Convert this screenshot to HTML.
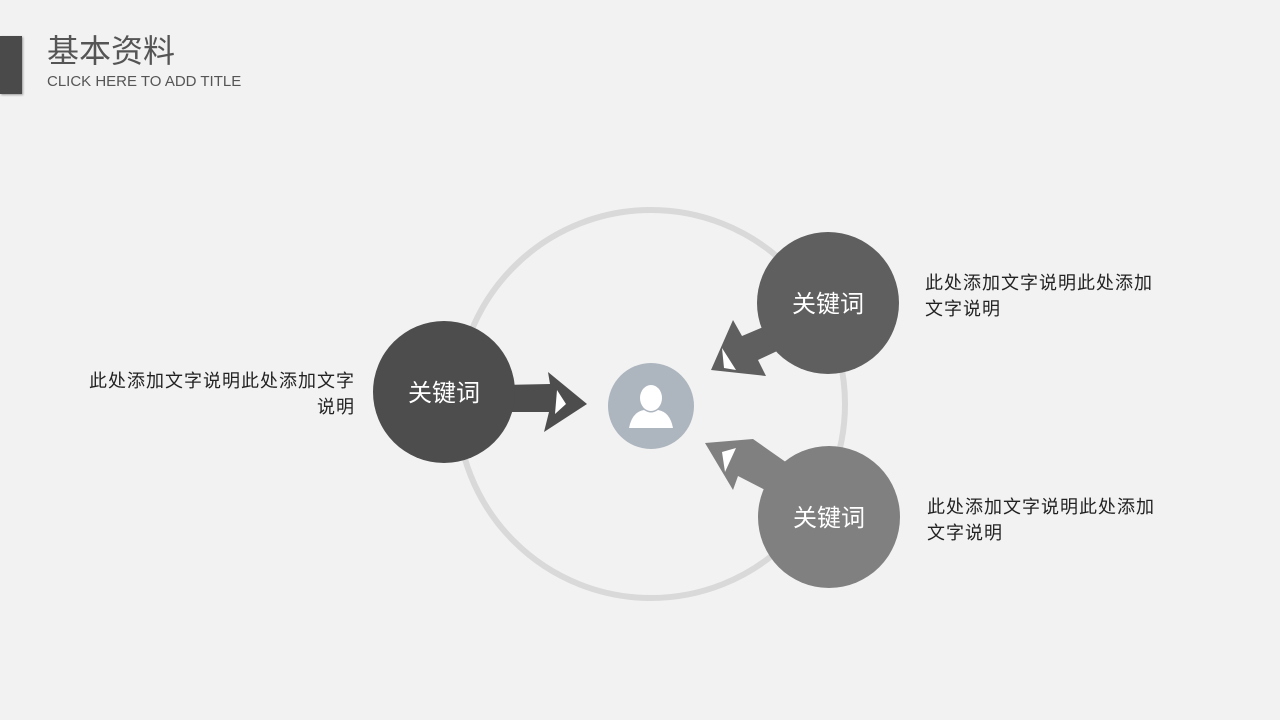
<!DOCTYPE html>
<html><head><meta charset="utf-8"><style>
body{margin:0;width:1280px;height:720px;background:#f2f2f2;overflow:hidden;position:relative;font-family:"Liberation Sans","Noto Sans CJK SC",sans-serif}
.t{position:absolute;color:#222;font-size:18px;line-height:26px;letter-spacing:1px}
</style></head><body>
<div style="position:absolute;left:0;top:36px;width:22px;height:58px;background:#4a4a4a;box-shadow:1px 1px 2px #999"></div>
<div style="position:absolute;left:47px;top:31px;font-size:32px;color:#555;line-height:40px">基本资料</div>
<div style="position:absolute;left:47px;top:73px;font-size:15px;color:#555">CLICK HERE TO ADD TITLE</div>
<svg width="1280" height="720" style="position:absolute;left:0;top:0">
<circle cx="651" cy="404" r="194" fill="none" stroke="#d9d9d9" stroke-width="6"/>
<polygon points="505,385 550,384 548,372 587,404 544,432 549,412 505,412" fill="#4d4d4d"/>
<polygon points="557,390 566,404 555,414" fill="#fff"/>
<polygon points="780,320 742,336 733,320 711,370 766,376 758,360 790,345" fill="#5f5f5f"/>
<polygon points="722,348 736,370 724,368" fill="#fff"/>
<polygon points="790,465 753,439 705,443 733,490 738,476 775,495" fill="#808080"/>
<polygon points="722,452 736,448 725,472" fill="#fff"/>
<circle cx="444" cy="392" r="71" fill="#4d4d4d"/>
<circle cx="828" cy="303" r="71" fill="#5f5f5f"/>
<circle cx="829" cy="517" r="71" fill="#808080"/>
<circle cx="651" cy="406" r="43" fill="#adb5bf"/>
<ellipse cx="651" cy="398" rx="11" ry="13" fill="#fff"/>
<path d="M629 428 Q632 412 644 410 Q651 415 658 410 Q670 412 673 428 Z" fill="#fff"/>
<g fill="#fff" font-size="24" text-anchor="middle" font-family="Liberation Sans,Noto Sans CJK SC,sans-serif">
<text x="444" y="401">关键词</text><text x="828" y="312">关键词</text><text x="829" y="526">关键词</text></g>
</svg>
<div class="t" style="left:60px;top:368px;width:295px;text-align:right">此处添加文字说明此处添加文字<br>说明</div>
<div class="t" style="left:925px;top:270px">此处添加文字说明此处添加<br>文字说明</div>
<div class="t" style="left:927px;top:494px">此处添加文字说明此处添加<br>文字说明</div>
</body></html>
